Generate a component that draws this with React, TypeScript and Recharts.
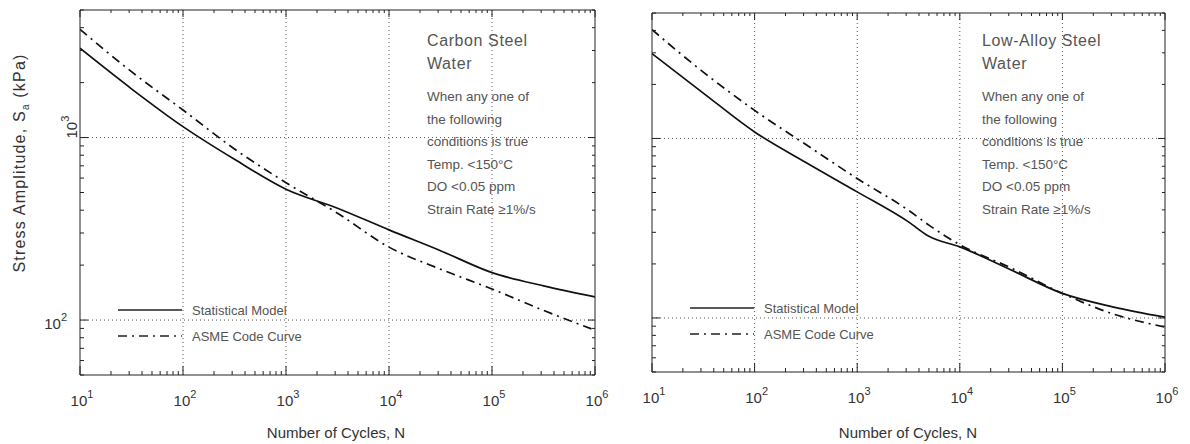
import React from "react";
import { LineChart, Line, XAxis, YAxis, ReferenceLine, Legend } from "recharts";

// values (kPa vs cycles)
const carbonCycles = [10, 31.6, 100, 316, 1000, 3162, 10000, 31623, 100000, 316228, 1000000];
const carbonModel = [3085, 1850, 1148, 760, 521, 410, 312, 240, 182, 154, 134];
const carbonAsme = [3917, 2296, 1416, 866, 566, 385, 251, 190, 148, 113, 88];

const alloyCycles = [10, 31.6, 100, 316, 1000, 3162, 5000, 10000, 31623, 100000, 316228, 1000000];
const alloyModel = [2972, 1790, 1087, 735, 504, 343, 285, 249, 185, 137, 115, 101];
const alloyAsme = [4036, 2344, 1434, 925, 598, 398, 329, 256, 190, 137, 105, 89];

const xTicks = [10, 20, 30, 40, 50, 60, 70, 80, 90, 100, 200, 300, 400, 500, 600, 700, 800, 900,
  1000, 2000, 3000, 4000, 5000, 6000, 7000, 8000, 9000, 10000, 20000, 30000, 40000, 50000, 60000,
  70000, 80000, 90000, 100000, 200000, 300000, 400000, 500000, 600000, 700000, 800000, 900000, 1000000];
const yTicks = [50, 60, 70, 80, 90, 100, 200, 300, 400, 500, 600, 700, 800, 900, 1000, 2000, 3000, 4000, 5000];
const xGrid = [100, 1000, 10000, 100000];
const yGrid = [100, 1000];

const carbonTitle = ["Carbon Steel", "Water"];
const alloyTitle = ["Low-Alloy Steel", "Water"];
const conditions = ["When any one of", "the following", "conditions is true", "Temp. <150°C", "DO <0.05 ppm", "Strain Rate ≥1%/s"];

const seriesNames = { model: "Statistical Model", asme: "ASME Code Curve" };
const DASH_DOT = "9 5 2 5";
const FONT = "'Liberation Sans', Arial, sans-serif";

const isMajor = (v: number) => Math.abs(Math.log10(v) - Math.round(Math.log10(v))) < 1e-6;

function BottomTick({ x, y, payload }: any) {
  const v = payload.value;
  const major = isMajor(v);
  return (
    <g>
      <line x1={x} x2={x} y1={y} y2={y - (major ? 9 : 4)} stroke="#222" />
      {major && (
        <text x={x + 2} y={y + 31} textAnchor="middle" fontSize={15} fill="#333" fontFamily={FONT}>
          10<tspan dy={-8} fontSize={11}>{Math.round(Math.log10(v))}</tspan>
        </text>
      )}
    </g>
  );
}

function TopTick({ x, y, payload }: any) {
  const major = isMajor(payload.value);
  return <line x1={x} x2={x} y1={y} y2={y + (major ? 7 : 3)} stroke="#222" />;
}

function RightTick({ x, y, payload }: any) {
  const major = isMajor(payload.value);
  return <line x1={x} x2={x - (major ? 7 : 3)} y1={y} y2={y} stroke="#222" />;
}

function makeLeftTick(showLabels: boolean) {
  return function LeftTick({ x, y, payload }: any) {
    const v = payload.value;
    const major = isMajor(v);
    return (
      <g>
        <line x1={x} x2={x + (major ? 8 : 4)} y1={y} y2={y} stroke="#222" />
        {showLabels && v === 100 && (
          <text x={x - 13} y={y + 9} textAnchor="end" fontSize={15} fill="#333" fontFamily={FONT}>
            10<tspan dy={-8} fontSize={11}>2</tspan>
          </text>
        )}
        {showLabels && v === 1000 && (
          <text transform={`translate(${x - 3}, ${y + 1}) rotate(-90)`} fontSize={15} fill="#333" fontFamily={FONT}>
            10<tspan dy={-8} fontSize={11}>3</tspan>
          </text>
        )}
      </g>
    );
  };
}

function LegendBox({ payload }: any) {
  const items = [...(payload || [])].sort((a: any, b: any) =>
    (a.value === seriesNames.model ? 0 : 1) - (b.value === seriesNames.model ? 0 : 1));
  return (
    <div style={{ fontFamily: FONT }}>
      {items.map((entry: any) => (
        <div key={entry.value} style={{ display: "flex", alignItems: "center", height: 26 }}>
          <svg width={64} height={6}>
            <line x1={0} x2={64} y1={3} y2={3} stroke="#222" strokeWidth={1.4}
              strokeDasharray={entry.value === seriesNames.asme ? DASH_DOT : undefined} />
          </svg>
          <span style={{ marginLeft: 10, fontSize: 13, color: "#555" }}>{entry.value}</span>
        </div>
      ))}
    </div>
  );
}

function FatigueChart({ cycles, model, asme, left, width, margin, showLabels, legendPos }: any) {
  const data = cycles.map((n: number, i: number) => ({ n, model: model[i], asme: asme[i] }));
  return (
    <div style={{ position: "absolute", left, top: 0 }}>
      <LineChart width={width} height={444} data={data} margin={margin}>
        <XAxis dataKey="n" type="number" scale="log" domain={[10, 1000000]} allowDataOverflow
          ticks={xTicks} interval={0} height={1} tickSize={0} tickMargin={0} tickLine={false}
          axisLine={{ stroke: "#222" }} tick={<BottomTick />} />
        <XAxis xAxisId="top" orientation="top" dataKey="n" type="number" scale="log" domain={[10, 1000000]}
          allowDataOverflow ticks={xTicks} interval={0} height={1} tickSize={0} tickMargin={0}
          tickLine={false} axisLine={{ stroke: "#222" }} tick={<TopTick />} />
        <YAxis type="number" scale="log" domain={[50, 5000]} allowDataOverflow ticks={yTicks} interval={0}
          width={1} tickSize={0} tickMargin={0} tickLine={false} axisLine={{ stroke: "#222" }}
          tick={makeLeftTick(showLabels)} />
        <YAxis yAxisId="right" orientation="right" type="number" scale="log" domain={[50, 5000]}
          allowDataOverflow ticks={yTicks} interval={0} width={1} tickSize={0} tickMargin={0}
          tickLine={false} axisLine={{ stroke: "#222" }} tick={<RightTick />} />
        {xGrid.map((v) => (
          <ReferenceLine key={"x" + v} x={v} stroke="#555" strokeDasharray="1 3" />
        ))}
        {yGrid.map((v) => (
          <ReferenceLine key={"y" + v} y={v} stroke="#555" strokeDasharray="1 3" />
        ))}
        <Line dataKey="model" name={seriesNames.model} type="monotone" stroke="#111" strokeWidth={1.7}
          dot={false} isAnimationActive={false} />
        <Line dataKey="asme" name={seriesNames.asme} type="monotone" stroke="#111" strokeWidth={1.7}
          strokeDasharray={DASH_DOT} dot={false} isAnimationActive={false} />
        <Legend layout="vertical" align="center" verticalAlign="middle" content={<LegendBox />}
          wrapperStyle={{ left: legendPos[0], top: legendPos[1], width: "auto" }} />
      </LineChart>
    </div>
  );
}

function Notes({ left, title }: { left: number; title: string[] }) {
  return (
    <div style={{ position: "absolute", left, top: 29, fontFamily: FONT, color: "#555" }}>
      {title.map((t) => (
        <div key={t} style={{ fontSize: 16, letterSpacing: 0.6, lineHeight: "23px", whiteSpace: "nowrap" }}>{t}</div>
      ))}
      <div style={{ marginTop: 11 }}>
        {conditions.map((t) => (
          <div key={t} style={{ fontSize: 13.5, lineHeight: "22.6px", whiteSpace: "nowrap" }}>{t}</div>
        ))}
      </div>
    </div>
  );
}

export default function App() {
  return (
    <div style={{ position: "fixed", left: 0, top: 0, width: 1190, height: 444, background: "#fff", fontFamily: FONT }}>
      <FatigueChart cycles={carbonCycles} model={carbonModel} asme={carbonAsme} left={0} width={620} showLabels
        margin={{ top: 9, right: 24, left: 79, bottom: 68 }} legendPos={[118, 297]} />
      <FatigueChart cycles={alloyCycles} model={alloyModel} asme={alloyAsme} left={595} width={595} showLabels={false}
        margin={{ top: 12, right: 24, left: 56, bottom: 71 }} legendPos={[95, 295]} />
      <Notes left={427} title={carbonTitle} />
      <Notes left={982} title={alloyTitle} />
      <div style={{ position: "absolute", left: 21, top: 163, transform: "translate(-50%, -50%) rotate(-90deg)",
        whiteSpace: "nowrap", fontSize: 16, letterSpacing: 1.2, color: "#333" }}>
        Stress Amplitude, S<sub style={{ fontSize: 10 }}>a</sub> (kPa)
      </div>
      <div style={{ position: "absolute", left: 336, top: 432, transform: "translate(-50%, -50%)",
        whiteSpace: "nowrap", fontSize: 15, color: "#333" }}>Number of Cycles, N</div>
      <div style={{ position: "absolute", left: 908, top: 432, transform: "translate(-50%, -50%)",
        whiteSpace: "nowrap", fontSize: 15, color: "#333" }}>Number of Cycles, N</div>
    </div>
  );
}
